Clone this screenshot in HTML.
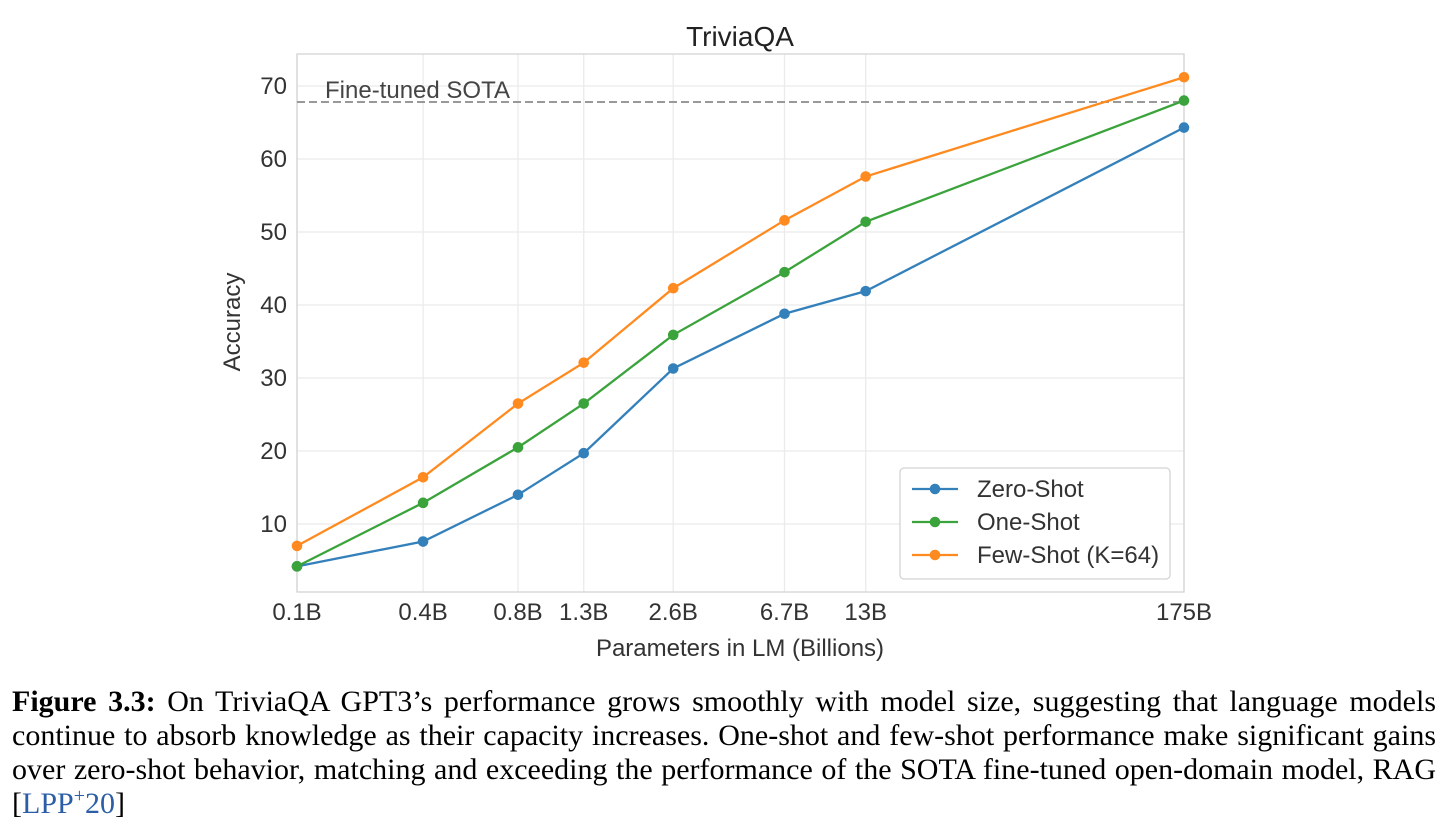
<!DOCTYPE html>
<html><head><meta charset="utf-8"><style>
body{margin:0;background:#fff;width:1446px;height:822px;overflow:hidden;position:relative}
svg{position:absolute;left:0;top:0}
.cap{position:absolute;left:12px;top:685px;width:1424px;font-family:"Liberation Serif",serif;font-size:30px;line-height:34px;text-align:justify;text-align-last:left;color:#000}
.cap a{color:#2b5ea7;text-decoration:none}
</style></head><body>
<svg id="chart" width="1446" height="680" font-family="Liberation Sans, sans-serif"></svg>
<div class="cap"><b>Figure 3.3:</b> On TriviaQA GPT3’s performance grows smoothly with model size, suggesting that language models continue to absorb knowledge as their capacity increases. One-shot and few-shot performance make significant gains over zero-shot behavior, matching and exceeding the performance of the SOTA fine-tuned open-domain model, RAG [<a>LPP<sup style="font-size:20px;line-height:0">+</sup>20</a>]</div>
<script>
const categories=["0.1B","0.4B","0.8B","1.3B","2.6B","6.7B","13B","175B"];
const paramSizes=[0.125,0.35,0.76,1.3,2.7,6.7,13,175];
const zeroShot=[4.2,7.6,14.0,19.7,31.3,38.8,41.9,64.3];
const oneShot=[4.2,12.9,20.5,26.5,35.9,44.5,51.4,68.0];
const fewShot=[7.0,16.4,26.5,32.1,42.3,51.6,57.6,71.2];
const yTicks=[10,20,30,40,50,60,70];
const sotaValue=67.8;
const seriesNames=["Zero-Shot","One-Shot","Few-Shot (K=64)"];

const NS="http://www.w3.org/2000/svg";
const svg=document.getElementById('chart');
const L=297,R=1184,T=54,B=592;
const x=v=>L+(Math.log10(v)-Math.log10(paramSizes[0]))/(Math.log10(paramSizes[paramSizes.length-1])-Math.log10(paramSizes[0]))*(R-L);
const y=v=>524-(v-10)*7.3;
function el(tag,attrs,parent){const e=document.createElementNS(NS,tag);for(const k in attrs)e.setAttribute(k,attrs[k]);(parent||svg).appendChild(e);return e;}
function txt(s,attrs){const e=el('text',attrs);e.textContent=s;return e;}

yTicks.forEach(v=>{
 const g=el('line',{x1:L,x2:R,y1:y(v),y2:y(v),stroke:'#ebebeb','stroke-width':1.3});
 
 
 const t=txt(String(v),{x:L-10,y:y(v)+8,'text-anchor':'end','font-size':24,fill:'#333'});
 
 
});
categories.forEach((c,i)=>{
 const g=el('line',{x1:x(paramSizes[i]),x2:x(paramSizes[i]),y1:T,y2:B,stroke:'#ebebeb','stroke-width':1.3});
 
 
 const t=txt(c,{x:x(paramSizes[i]),y:B+28,'text-anchor':'middle','font-size':24,fill:'#333'});
 
 
});
const fr=el('rect',{x:L,y:T,width:R-L,height:B-T,fill:'none',stroke:'#d4d4d4','stroke-width':1.3});



const sota=el('line',{x1:L,x2:R,y1:y(sotaValue),y2:y(sotaValue),stroke:'#999','stroke-width':2,'stroke-dasharray':'8,4'});


const st=txt('Fine-tuned SOTA',{x:325,y:98,'font-size':24,fill:'#444'});



const colors=['#3380bb','#3ba33b','#ff8a1f'];
[zeroShot,oneShot,fewShot].forEach((vals,si)=>{
 const pts=vals.map((v,i)=>x(paramSizes[i])+','+y(v)).join(' ');
 const pl=el('polyline',{points:pts,fill:'none',stroke:colors[si],'stroke-width':2.3});
 
 
 vals.forEach((v,i)=>{
  const c=el('circle',{cx:x(paramSizes[i]),cy:y(v),r:5.3,fill:colors[si]});
  
  
 });
});

const title=txt('TriviaQA',{x:740,y:46,'text-anchor':'middle','font-size':28,fill:'#222'});


const xl=txt('Parameters in LM (Billions)',{x:740,y:656,'text-anchor':'middle','font-size':24,fill:'#333'});


const yl=txt('Accuracy',{x:0,y:0,'text-anchor':'middle','font-size':24,fill:'#333',transform:'translate(240,322) rotate(-90)'});



const lg=el('rect',{x:900,y:468,width:270,height:111,rx:4,fill:'#fff',stroke:'#d4d4d4','stroke-width':1.3});


seriesNames.forEach((n,i)=>{
 const yy=489+i*33;
 const ln=el('line',{x1:912,x2:958,y1:yy,y2:yy,stroke:colors[i],'stroke-width':2.3});
 
 
 const c=el('circle',{cx:935,cy:yy,r:5.3,fill:colors[i]});
 
 
 const t=txt(n,{x:977,y:yy+8,'font-size':24,fill:'#333'});
 
 
});
</script>
</body></html>
